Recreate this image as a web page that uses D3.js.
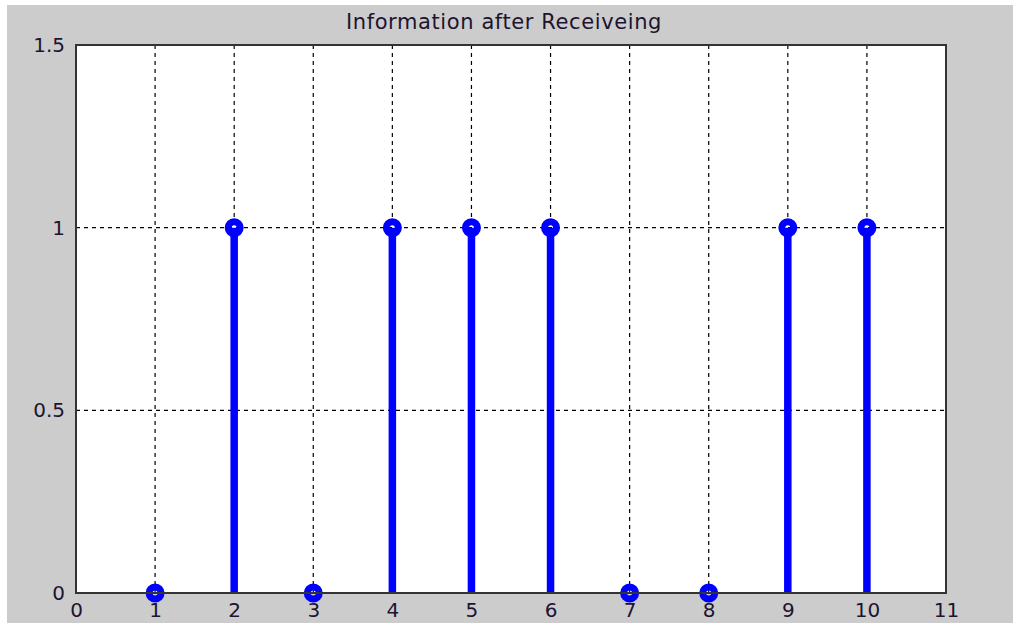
<!DOCTYPE html>
<html lang="en">
<head>
  <meta charset="UTF-8">
  <title>Information after Receiveing</title>
  <style>
    body { margin:0; background:#fff; }
    #chart text { font-family:'DejaVu Sans', sans-serif; fill:#1c1430; }
    .grid line { stroke:#000; stroke-dasharray:4,4; stroke-width:1.2; }
  </style>
  <script src="https://cdn.jsdelivr.net/npm/d3@7"></script>
</head>
<body>
  <svg id="chart" width="1013" height="628"></svg>
<script>
// data
let samples = [1, 2, 3, 4, 5, 6, 7, 8, 9, 10]
let bits = [0, 1, 0, 1, 1, 1, 0, 0, 1, 1]
let xTicks = [0, 1, 2, 3, 4, 5, 6, 7, 8, 9, 10, 11]
let yTicks = [0, 0.5, 1, 1.5]
let title = "Information after Receiveing"

let svg = d3.select("#chart")
let pLeft = 76, pRight = 946, pTop = 45, pBottom = 593

svg.append("rect").attr("x", 7).attr("y", 5).attr("width", 1006).attr("height", 618).style("fill", "#cccccc")

let x = d3.scaleLinear().domain([0, 11]).range([pLeft, pRight])
let y = d3.scaleLinear().domain([0, 1.5]).range([pBottom, pTop])

svg.append("rect").attr("x", pLeft).attr("y", pTop)
  .attr("width", pRight - pLeft).attr("height", pBottom - pTop).style("fill", "#fff")

// dotted grid
let grid = svg.append("g").attr("class", "grid")
grid.selectAll(".vx").data(xTicks.slice(1, -1)).enter().append("line")
  .attr("x1", d => x(d)).attr("x2", d => x(d)).attr("y1", pTop).attr("y2", pBottom)
grid.selectAll(".hy").data(yTicks.slice(1, -1)).enter().append("line")
  .attr("x1", pLeft).attr("x2", pRight).attr("y1", d => y(d)).attr("y2", d => y(d))

// axes
let xAxis = d3.axisBottom(x).tickValues(xTicks).tickFormat(d3.format("d")).tickSize(0).tickPadding(10)
let yAxis = d3.axisLeft(y).tickValues(yTicks).tickFormat(d => d).tickSize(0).tickPadding(11)
let gx = svg.append("g").attr("transform", `translate(0,${pBottom})`).call(xAxis)
let gy = svg.append("g").attr("transform", `translate(${pLeft},0)`).call(yAxis)
gx.select(".domain").remove()
gy.select(".domain").remove()
svg.selectAll(".tick text").style("font-size", "20px")

// stems
svg.selectAll(".stem").data(samples).enter().append("line")
  .attr("x1", d => x(d)).attr("x2", d => x(d))
  .attr("y1", y(0)).attr("y2", (d, i) => y(bits[i]))
  .style("stroke", "#0000ff").style("stroke-width", 7.5)

// markers
svg.selectAll(".mark").data(samples).enter().append("circle")
  .attr("cx", d => x(d)).attr("cy", (d, i) => y(bits[i]))
  .attr("r", 6)
  .style("fill", "none").style("stroke", "#0000ff").style("stroke-width", 7)

// frame drawn on top, like the axes box
svg.append("rect").attr("x", pLeft).attr("y", pTop)
  .attr("width", pRight - pLeft).attr("height", pBottom - pTop)
  .style("fill", "none").style("stroke", "#333").style("stroke-width", 2)

svg.append("text").attr("x", 504).attr("y", 29)
  .attr("text-anchor", "middle").style("font-size", "21px")
  .style("letter-spacing", "0.6px").text(title)
</script>
</body>
</html>
